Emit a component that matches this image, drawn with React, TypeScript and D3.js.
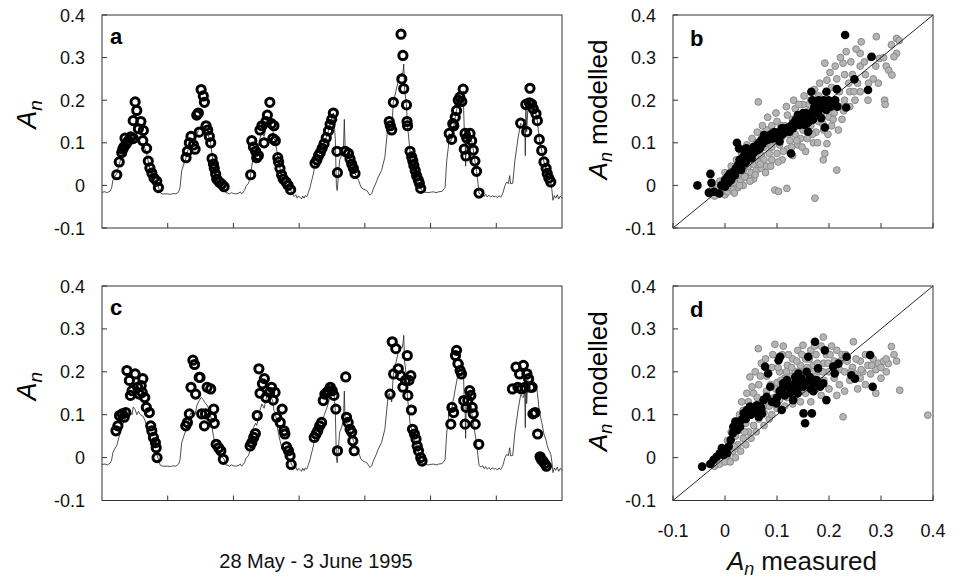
import React from 'react';
import * as d3 from 'd3';

type P = [number, number];

// ---------- axis ticks ----------
const dayBoundaries = [24, 48, 72, 96, 120, 144];
const yTickValues = [0.4, 0.3, 0.2, 0.1, 0, -0.1];
const yTickLabels = ['0.4', '0.3', '0.2', '0.1', '0', '-0.1'];
const scatterXTicks = [-0.1, 0, 0.1, 0.2, 0.3, 0.4];
const scatterXLabels = ['-0.1', '0', '0.1', '0.2', '0.3', '0.4'];

// ---------- modelled line (hour since 28 May 00:00, An) ----------
const lineDay1: P[] = [[0,-0.016],[1,-0.015],[2,-0.017],[3,-0.013],[3.5,-0.006],[4,0.012],[4.6,0.02],[5.4,0.028],[6.3,0.05],[7.2,0.07],[8,0.085],[8.8,0.095],[9.6,0.1],[10.5,0.105],[11,0.1],[11.4,0.118],[12.1,0.112],[12.7,0.1],[13.3,0.108],[14,0.1],[14.9,0.097],[15.5,0.09],[16.3,0.075],[16.9,0.055],[17.5,0.04],[18.2,0.028],[19,0.016],[20,0.008],[20.6,-0.004],[21.2,-0.017],[22,-0.02],[23,-0.02]];
const lineDay2: P[] = [[24,-0.02],[25,-0.021],[26,-0.019],[27,-0.02],[28,-0.015],[28.5,-0.005],[29.1,0.035],[30.3,0.058],[30.7,0.065],[31.2,0.078],[31.9,0.095],[32.5,0.105],[33.4,0.095],[34,0.1],[34.6,0.12],[35.2,0.13],[36.2,0.14],[37,0.135],[37.4,0.13],[38,0.125],[38.6,0.12],[39.2,0.11],[39.7,0.098],[40.2,0.07],[40.7,0.05],[41,0.04],[41.5,0.027],[41.9,0.015],[42.8,0.008],[43.7,0.003],[44.6,-0.004],[45.2,-0.017],[46,-0.018],[46.6,-0.02],[47.3,-0.017]];
const lineDay3: P[] = [[48,-0.019],[49,-0.02],[50,-0.018],[50.5,-0.015],[51,-0.02],[52,-0.012],[52.6,-0.002],[53.5,0.005],[54.2,0.02],[54.7,0.045],[55.3,0.07],[56.1,0.08],[56.5,0.075],[57.1,0.09],[57.7,0.11],[58.4,0.125],[59.2,0.115],[59.9,0.135],[60.4,0.15],[61.3,0.145],[61.9,0.14],[62.4,0.13],[62.8,0.11],[63.3,0.105],[64.2,0.065],[64.5,0.055],[65,0.04],[65.6,0.025],[66.2,0.015],[67.2,0.008],[68,0],[68.9,-0.01],[69.5,-0.02],[70.2,-0.026],[70.8,-0.022],[71.3,-0.03],[71.8,-0.025]];
const lineDay4: P[] = [[72.4,-0.028],[72.9,-0.032],[73.3,-0.025],[73.8,-0.03],[74.2,-0.024],[74.8,-0.027],[75.4,-0.016],[76,-0.004],[76.6,0.012],[77.2,0.027],[77.8,0.05],[78.5,0.06],[79.1,0.07],[79.7,0.077],[80.4,0.087],[81.1,0.098],[81.9,0.112],[82.7,0.128],[83.3,0.143],[83.9,0.155],[84.5,0.17],[85.2,0.11],[85.6,0],[85.9,-0.012],[86.3,0.02],[86.8,0.06],[87.5,0.07],[88.2,0.09],[88.5,0.155],[88.8,0.085],[90,0.075],[90.6,0.062],[91.2,0.05],[91.8,0.04],[92.4,0.028],[93.7,0.012],[94.6,-0.004]];
const lineDay5: P[] = [[95.3,-0.008],[96.7,-0.012],[97.9,-0.023],[98.5,-0.019],[99.1,-0.008],[100.2,0.008],[100.9,0.02],[102.1,0.035],[103.3,0.066],[104,0.112],[104.5,0.143],[104.9,0.15],[105.3,0.14],[105.8,0.13],[106.4,0.195],[107.3,0.22],[108.2,0.245],[109,0.26],[109.6,0.255],[110,0.27],[110.2,0.285],[110.5,0.225],[111.2,0.189],[111.5,0.145],[112.5,0.08],[113.1,0.067],[113.5,0.058],[113.9,0.047],[114.4,0.035],[114.9,0.023],[115.5,0.013],[115.9,0.005],[116.4,-0.007],[117,-0.015],[118,-0.016],[119,-0.017]];
const lineDay6: P[] = [[120,-0.016],[121,-0.015],[122,-0.017],[123,-0.015],[124.2,-0.014],[125.3,-0.005],[125.9,0.058],[126.5,0.09],[126.8,0.122],[127.2,0.1],[127.7,0.108],[128.1,0.13],[128.5,0.14],[129,0.16],[129.5,0.176],[130.1,0.2],[130.7,0.207],[131.4,0.197],[131.9,0.222],[132.3,0.13],[132.6,0.12],[132.8,0.045],[133,0.11],[133.4,0.12],[134.4,0.122],[135,0.105],[135.6,0.083],[136.2,0.057],[136.8,0.033],[137.3,0.005],[137.7,-0.018],[138.4,-0.022],[139,-0.019],[139.6,-0.026],[140.1,-0.021],[140.7,-0.027],[141.3,-0.023],[141.9,-0.028],[142.5,-0.024],[143.2,-0.027]];
const lineDay7: P[] = [[143.8,-0.025],[144.4,-0.029],[145,-0.024],[145.6,-0.028],[146.3,-0.02],[147.2,0],[147.8,0.008],[148.4,0.004],[148.9,0.023],[149.2,0.004],[150,0.005],[150.8,0.058],[152,0.113],[152.9,0.146],[153.8,0.14],[154.4,0.15],[154.6,0.07],[154.8,0.19],[155.1,0.126],[155.6,0.19],[156.1,0.2],[156.6,0.205],[156.9,0.191],[157.5,0.18],[158.5,0.168],[159,0.152],[159.7,0.108],[160.6,0.082],[161.4,0.055],[162.2,0.04],[162.6,0.028],[163.2,0.017],[163.9,0.008],[164.3,-0.01],[164.7,-0.035],[165.2,-0.024],[165.7,-0.03],[166.3,-0.022],[166.8,-0.032],[167.4,-0.025],[168,-0.03]];
const modelLine: P[] = [...lineDay1, ...lineDay2, ...lineDay3, ...lineDay4, ...lineDay5, ...lineDay6, ...lineDay7];

// ---------- measured points, panel a ----------
const circlesA: P[] = [
  [5.4,0.025],[6.3,0.055],[7.2,0.077],[7.6,0.085],[8,0.09],[8.8,0.097],[8.4,0.111],[9.6,0.105],[10.5,0.114],[11.4,0.11],[12.1,0.196],[12.7,0.176],[11.4,0.152],[14.2,0.15],[13.3,0.133],[15.1,0.129],[14.9,0.105],[16.3,0.087],[16.9,0.057],[17.5,0.041],[18.2,0.029],[19,0.017],[20,0.01],[20.6,-0.005],
  [30.7,0.065],[31.2,0.08],[31.9,0.1],[32.5,0.115],[33.4,0.095],[34,0.085],[34.6,0.165],[35.2,0.17],[35.5,0.125],[36.2,0.225],[37,0.21],[37.4,0.195],[38,0.14],[38.6,0.13],[39.2,0.115],[39.7,0.1],[40.2,0.063],[40.7,0.05],[41,0.04],[41.5,0.027],[41.9,0.015],[42.8,0.008],[43.7,0.003],[44.6,-0.003],
  [54.3,0.025],[54.7,0.105],[55.3,0.09],[56.1,0.08],[56.5,0.065],[57.1,0.07],[57.7,0.13],[58.4,0.14],[59.2,0.1],[59.9,0.15],[60.4,0.165],[61.3,0.195],[61.9,0.145],[62.8,0.14],[62.4,0.11],[63.3,0.105],[64.2,0.065],[64.5,0.055],[65,0.04],[65.6,0.025],[66.2,0.015],[67.2,0.008],[68,0],[68.9,-0.01],
  [77.8,0.052],[78.5,0.06],[79.1,0.07],[79.7,0.077],[80.4,0.087],[81.1,0.098],[81.9,0.112],[82.7,0.128],[83.3,0.143],[83.9,0.155],[84.5,0.17],[85.8,0.08],[86,0.03],[88.8,0.08],[90,0.075],[90.6,0.062],[91.2,0.05],[91.8,0.04],[92.4,0.028],
  [104.9,0.15],[105.3,0.14],[105.8,0.13],[106.4,0.195],[109.2,0.355],[109.5,0.25],[109.9,0.305],[110.2,0.227],[111.2,0.189],[111.4,0.15],[111.6,0.14],[112.5,0.08],[113.1,0.067],[113.5,0.058],[113.9,0.047],[114.4,0.035],[114.9,0.023],[115.5,0.013],[115.9,0.005],[116.4,-0.007],
  [126.8,0.122],[127.7,0.108],[128.1,0.145],[128.5,0.14],[129,0.16],[129.5,0.176],[130.1,0.2],[130.7,0.207],[131.4,0.197],[131.9,0.226],[132.3,0.085],[132.6,0.122],[132.9,0.069],[133.2,0.111],[134.4,0.122],[135,0.105],[135.6,0.083],[136.2,0.057],[136.8,0.033],[137.7,-0.018],
  [152.9,0.146],[154.8,0.19],[155.1,0.126],[156.1,0.194],[156.3,0.228],[156.9,0.191],[157.5,0.18],[158.5,0.168],[159,0.152],[159.7,0.108],[160.6,0.082],[161.4,0.055],[162.2,0.04],[162.6,0.028],[163.2,0.017],[163.9,0.008],
];

// ---------- measured points, panel c ----------
const circlesC: P[] = [
  [5.1,0.0625],[5.8,0.074],[6.4,0.098],[7.4,0.102],[8.1,0.094],[8.7,0.105],[9.1,0.203],[10,0.18],[10.4,0.145],[11,0.156],[12.1,0.195],[13,0.164],[13.6,0.148],[14.3,0.168],[14.9,0.184],[14.7,0.152],[15.6,0.14],[16.2,0.117],[17.3,0.105],[17.8,0.074],[18.2,0.0625],[18.8,0.047],[19.5,0.035],[19.8,0.023],[20.1,0],
  [30.6,0.074],[31.2,0.082],[31.9,0.102],[32.5,0.164],[33.2,0.227],[33.8,0.217],[34.2,0.148],[35.5,0.187],[35.8,0.187],[36.4,0.102],[37.4,0.074],[37.8,0.102],[38.4,0.164],[39.7,0.16],[40,0.094],[40.8,0.113],[41,0.08],[41.7,0.031],[42.6,0.023],[43.4,0.016],[44.3,-0.004],
  [54.1,0.027],[54.7,0.035],[55.4,0.047],[56,0.056],[56.7,0.098],[57.3,0.207],[57.7,0.15],[58.6,0.172],[59.3,0.184],[59.9,0.14],[61.2,0.152],[61.9,0.164],[62.5,0.134],[63.2,0.152],[63.8,0.094],[65.1,0.082],[65.8,0.113],[66.5,0.0625],[66.8,0.055],[67.4,0.025],[68.1,0.016],[68.7,0.004],[69.1,-0.016],
  [77.5,0.047],[78.2,0.055],[78.8,0.0625],[79.5,0.074],[80.2,0.082],[80.8,0.133],[81.4,0.148],[82.1,0.152],[82.7,0.156],[83.4,0.164],[84.1,0.156],[84.7,0.145],[85.4,0.113],[86,0.016],[89,0.188],[89.3,0.094],[89.9,0.082],[90.6,0.066],[91.2,0.059],[91.6,0.039],[92.1,0.016],
  [105.2,0.148],[106,0.27],[106.5,0.195],[107.3,0.254],[108.2,0.207],[109.1,0.191],[109.9,0.164],[110.8,0.18],[111.5,0.238],[111.7,0.145],[112.1,0.18],[112.8,0.191],[113,0.111],[113.4,0.066],[114.1,0.055],[114.7,0.043],[115.1,0.027],[115.6,0.016],[116.4,0],[116.9,-0.008],
  [127.4,0.078],[127.8,0.117],[128.4,0.105],[129.1,0.238],[129.5,0.25],[130,0.219],[130.8,0.203],[131.3,0.195],[132.1,0.133],[132.6,0.078],[133,0.117],[133.6,0.133],[134.3,0.156],[134.7,0.145],[135.2,0.117],[135.6,0.102],[136.3,0.078],[137.6,0.031],
  [149.9,0.16],[151.2,0.211],[151.9,0.164],[152.5,0.195],[153.2,0.16],[153.9,0.215],[154.5,0.164],[155.2,0.195],[155.8,0.184],[156.5,0.164],[157.1,0.164],[157.4,0.102],[158.2,0.105],[159.1,0.055],[160,0.002],[160.4,-0.004],[161,-0.008],[161.7,-0.014],[162.3,-0.02],
];

// ---------- scatter b (measured, modelled) ----------
const grayB: P[] = [
  [-0.03,-0.02],[-0.025,-0.01],[-0.02,-0.025],[-0.015,-0.005],[-0.01,-0.02],[-0.01,0.01],[-0.005,-0.012],[0,0.005],[0,-0.022],[0.005,-0.015],[0.005,0.02],[0.01,0],[0.01,0.03],[0.015,-0.01],[0.015,0.015],[0.02,0.04],[0.02,0.005],[0.025,-0.005],[0.025,0.025],[0.03,0.05],[0.03,0.01],[0.035,0.035],[0.035,0],[0.04,0.06],[0.04,0.02],[0.045,0.045],[0.045,0.075],[0.05,0.03],[0.05,0.06],[0.05,0.09],
  [0.055,0.015],[0.055,0.05],[0.06,0.1],[0.06,0.07],[0.06,0.035],[0.065,0.085],[0.065,0.055],[0.064,0.196],[0.07,0.04],[0.07,0.12],[0.07,0.07],[0.075,0.09],[0.075,0.06],[0.08,0.13],[0.08,0.045],[0.08,0.1],[0.085,0.075],[0.085,0.115],[0.09,0.06],[0.09,0.14],[0.09,0.09],[0.095,0.105],[0.096,-0.011],[0.1,0.075],[0.1,0.125],[0.1,0.15],[0.103,-0.014],[0.105,0.095],[0.11,0.06],[0.11,0.115],
  [0.115,0.14],[0.12,0.085],[0.12,0.165],[0.119,-0.007],[0.125,0.105],[0.125,0.13],[0.13,0.155],[0.13,0.07],[0.135,0.12],[0.135,0.18],[0.14,0.095],[0.14,0.14],[0.145,0.165],[0.145,0.11],[0.15,0.19],[0.15,0.13],[0.155,0.08],[0.155,0.155],[0.16,0.12],[0.16,0.175],[0.165,0.2],[0.165,0.14],[0.17,0.1],[0.17,0.16],[0.173,-0.03],
  [0.175,0.185],[0.175,0.125],[0.18,0.21],[0.18,0.15],[0.185,0.17],[0.189,0.06],[0.19,0.2],[0.19,0.13],[0.192,0.075],[0.195,0.22],[0.196,0.098],[0.196,0.247],[0.192,0.287],[0.2,0.16],[0.2,0.185],[0.205,0.23],[0.205,0.14],[0.21,0.2],[0.21,0.17],[0.215,0.036],[0.215,0.25],[0.22,0.185],[0.22,0.22],[0.225,0.155],[0.227,0.287],[0.23,0.2],[0.23,0.26],[0.233,0.314],[0.24,0.22],[0.24,0.185],[0.245,0.26],[0.26,0.31],[0.25,0.2],[0.26,0.28],
  [0.255,0.24],[0.262,0.337],[0.26,0.22],[0.276,0.24],[0.27,0.26],[0.275,0.2],[0.28,0.3],[0.291,0.349],[0.285,0.25],[0.29,0.28],[0.295,0.24],[0.297,0.298],[0.307,0.2],[0.305,0.3],[0.308,0.19],[0.31,0.28],[0.315,0.27],[0.32,0.33],[0.33,0.345],[0.33,0.31],[0.321,0.259],[0.325,0.302],[0.335,0.34],
  [0,0.03],[0.005,-0.005],[0.012,0.045],[0.018,-0.018],[0.022,0.06],[0.028,0],[0.032,0.075],[0.038,0.02],[0.042,0.095],[0.048,0.01],[0.052,0.11],[0.058,0.025],[0.062,0.125],[0.068,0.05],[0.072,0.14],[0.078,0.03],[0.082,0.16],[0.088,0.045],[0.092,0.12],[0.098,0.17],[0.102,0.055],[0.108,0.14],[0.112,0.08],[0.118,0.185],[0.122,0.12],[0.128,0.09],[0.132,0.2],[0.138,0.105],[0.142,0.19],[0.148,0.09],[0.152,0.21],[0.158,0.11],[0.162,0.19],[0.168,0.12],[0.172,0.225],[0.178,0.1],[0.182,0.24],[0.188,0.145],[0.198,0.12],[0.202,0.265],[0.208,0.155],[0.212,0.28],[0.218,0.13],[0.222,0.3],[0.228,0.175],[0.238,0.24],[0.242,0.29],[0.248,0.22],[0.252,0.32],[0.268,0.29],
];
const blackB: P[] = [
  [-0.053,0],[-0.031,-0.017],[-0.021,-0.015],[-0.011,-0.019],[-0.026,0.006],[-0.028,0.027],[-0.007,0],[0,0.013],[0,-0.003],[0.005,0.02],[0.006,0.006],[0.009,0.027],[0.012,0.013],[0.016,0.032],[0.019,0.024],[0.021,0.04],[0.025,0.048],[0.028,0.06],[0.031,0.036],[0.035,0.067],[0.038,0.079],[0.038,0.052],[0.041,0.087],[0.044,0.071],[0.049,0.067],[0.023,0.1],[0.027,0.087],[0.051,0.064],[0.054,0.075],[0.057,0.079],[0.06,0.09],[0.063,0.083],[0.065,0.1],[0.067,0.087],[0.07,0.106],[0.073,0.099],[0.075,0.118],[0.08,0.11],[0.083,0.107],[0.086,0.118],[0.091,0.122],[0.092,0.11],[0.096,0.114],[0.1,0.122],[0.102,0.11],[0.105,0.103],[0.106,0.126],[0.109,0.134],[0.112,0.122],[0.114,0.134],[0.118,0.126],[0.124,0.126],[0.125,0.138],[0.127,0.075],[0.131,0.146],[0.131,0.134],[0.136,0.154],[0.14,0.165],[0.143,0.142],[0.144,0.154],[0.147,0.15],[0.15,0.17],[0.153,0.142],[0.154,0.158],[0.156,0.169],[0.158,0.146],[0.16,0.126],[0.162,0.15],[0.165,0.158],[0.166,0.22],[0.168,0.173],[0.169,0.154],[0.168,0.2],[0.175,0.192],[0.179,0.169],[0.18,0.2],[0.185,0.181],[0.185,0.158],[0.189,0.192],[0.192,0.136],[0.195,0.177],[0.195,0.22],[0.199,0.2],[0.203,0.185],[0.212,0.2],[0.215,0.226],[0.216,0.185],[0.233,0.183],[0.231,0.353],[0.249,0.249],[0.275,0.224],[0.282,0.302],
  [0.01,0.02],[0.02,0.035],[0.03,0.045],[0.04,0.055],[0.045,0.08],[0.055,0.09],[0.062,0.095],[0.07,0.095],[0.078,0.105],[0.088,0.11],[0.095,0.125],[0.108,0.118],[0.116,0.128],[0.122,0.135],[0.128,0.14],[0.138,0.148],[0.148,0.16],[0.158,0.165],[0.172,0.185],[0.18,0.185],[0.19,0.2],[0.2,0.19],
];

// ---------- scatter d (measured, modelled) ----------
const grayD: P[] = [
  [-0.03,-0.015],[-0.02,-0.02],[-0.015,0],[-0.01,-0.015],[-0.005,0.015],[0,-0.01],[0,0.02],[0.005,0.005],[0.01,-0.01],[0.01,0.035],[0.015,0.015],[0.02,0.05],[0.02,0],[0.025,0.03],[0.03,0.065],[0.03,0.015],[0.035,0.045],[0.035,0.11],[0.04,0.08],[0.04,0.03],[0.045,0.06],[0.045,0.13],[0.048,0.188],[0.05,0.1],[0.05,0.045],[0.055,0.075],[0.055,0.15],[0.06,0.12],[0.06,0.06],[0.064,0.254],
  [0.065,0.09],[0.065,0.17],[0.07,0.22],[0.07,0.135],[0.075,0.075],[0.075,0.105],[0.08,0.19],[0.08,0.155],[0.085,0.12],[0.085,0.09],[0.09,0.21],[0.09,0.1],[0.095,0.14],[0.096,0.264],[0.1,0.175],[0.1,0.115],[0.105,0.2],[0.105,0.135],[0.11,0.24],[0.11,0.15],[0.115,0.12],[0.115,0.185],[0.12,0.215],[0.12,0.14],[0.125,0.165],[0.125,0.19],[0.13,0.23],[0.13,0.125],[0.135,0.2],[0.135,0.145],
  [0.14,0.17],[0.14,0.25],[0.145,0.215],[0.145,0.13],[0.15,0.262],[0.15,0.185],[0.155,0.15],[0.155,0.23],[0.16,0.2],[0.16,0.17],[0.165,0.25],[0.165,0.13],[0.17,0.215],[0.17,0.185],[0.175,0.16],[0.175,0.24],[0.18,0.2],[0.185,0.26],[0.185,0.145],[0.189,0.281],[0.19,0.22],[0.19,0.18],[0.195,0.24],[0.2,0.2],[0.2,0.16],[0.205,0.26],[0.21,0.225],[0.21,0.185],[0.215,0.145],[0.215,0.25],
  [0.22,0.205],[0.22,0.17],[0.225,0.24],[0.227,0.095],[0.23,0.2],[0.23,0.155],[0.235,0.225],[0.24,0.18],[0.245,0.21],[0.247,0.27],[0.25,0.195],[0.255,0.16],[0.26,0.225],[0.26,0.185],[0.265,0.2],[0.27,0.24],[0.27,0.17],[0.275,0.215],[0.28,0.195],[0.285,0.23],[0.29,0.15],[0.29,0.205],[0.295,0.22],[0.3,0.185],[0.305,0.225],[0.31,0.2],[0.314,0.219],[0.32,0.259],[0.325,0.24],[0.33,0.225],[0.336,0.157],[0.39,0.099],
  [0.005,0.04],[0.012,0.06],[0.018,0.025],[0.022,0.085],[0.028,0.1],[0.032,0.13],[0.038,0.06],[0.042,0.15],[0.052,0.165],[0.058,0.2],[0.062,0.14],[0.068,0.19],[0.072,0.1],[0.078,0.23],[0.082,0.13],[0.088,0.17],[0.092,0.24],[0.098,0.16],[0.102,0.21],[0.108,0.18],[0.112,0.26],[0.118,0.2],[0.122,0.24],[0.128,0.21],[0.132,0.18],[0.138,0.225],[0.142,0.2],[0.148,0.24],[0.152,0.2],[0.158,0.21],[0.162,0.23],[0.168,0.2],[0.172,0.26],[0.178,0.22],[0.182,0.18],[0.188,0.2],[0.198,0.22],[0.202,0.24],[0.212,0.205],[0.222,0.225],[0.232,0.24],[0.242,0.2],[0.252,0.23],[0.262,0.205],[0.282,0.215],[0.3,0.21],[0.31,0.23],
];
const blackD: P[] = [
  [-0.044,-0.021],[-0.028,-0.015],[-0.022,-0.005],[-0.016,0.002],[-0.01,0.01],[-0.006,0.022],[-0.003,0.006],[0,0.018],[0.004,0.01],[0.007,0.026],[0.011,0.041],[0.015,0.057],[0.016,0.072],[0.02,0.084],[0.023,0.064],[0.029,0.072],[0.032,0.088],[0.036,0.103],[0.04,0.09],[0.042,0.111],[0.048,0.119],[0.05,0.1],[0.055,0.111],[0.06,0.105],[0.061,0.122],[0.065,0.095],[0.068,0.119],[0.07,0.115],[0.071,0.103],[0.074,0.134],[0.077,0.212],[0.08,0.142],[0.083,0.196],[0.087,0.165],[0.09,0.13],[0.099,0.126],[0.1,0.14],[0.103,0.227],[0.105,0.155],[0.106,0.235],[0.109,0.111],[0.11,0.16],[0.112,0.173],[0.115,0.145],[0.119,0.181],[0.12,0.17],[0.122,0.165],[0.125,0.15],[0.13,0.16],[0.131,0.134],[0.135,0.188],[0.135,0.175],[0.14,0.15],[0.141,0.196],[0.144,0.165],[0.147,0.184],[0.15,0.165],[0.151,0.103],[0.154,0.08],[0.155,0.175],[0.157,0.2],[0.16,0.235],[0.163,0.188],[0.165,0.16],[0.167,0.103],[0.17,0.173],[0.17,0.155],[0.173,0.27],[0.176,0.181],[0.179,0.208],[0.183,0.165],[0.189,0.173],[0.192,0.25],[0.195,0.134],[0.208,0.212],[0.211,0.196],[0.218,0.219],[0.234,0.235],[0.243,0.192],[0.25,0.184],[0.279,0.239],[0.284,0.165],
];

const FONT = '"Liberation Sans", Arial, Helvetica, sans-serif';

const TS_LEFT = 102;
const TS_RIGHT = 562;
const SC_LEFT = 673;
const SC_RIGHT = 933;

function YAxis({ left, y }: { left: number; y: d3.ScaleLinear<number, number> }) {
  return (
    <g>
      {yTickValues.map((v, i) => (
        <g key={i}>
          <line x1={left} x2={left + 5} y1={y(v)} y2={y(v)} stroke="#333" strokeWidth={1} />
          <text x={left - 17} y={y(v) + 6.5} textAnchor="end" fontSize={18} fontFamily={FONT} fill="#111">
            {yTickLabels[i]}
          </text>
        </g>
      ))}
    </g>
  );
}

function TimePanel({ top, bottom, circles, label }: { top: number; bottom: number; circles: P[]; label: string }) {
  const x = d3.scaleLinear().domain([0, 168]).range([TS_LEFT, TS_RIGHT]);
  const y = d3.scaleLinear().domain([-0.1, 0.4]).range([bottom, top]);
  const path = d3.line<P>().x((d) => x(d[0])).y((d) => y(d[1]))(modelLine) || '';
  const mid = (top + bottom) / 2 - 7;
  return (
    <g>
      <path d={path} fill="none" stroke="#222" strokeWidth={0.8} />
      {circles.map((d, i) => (
        <circle key={i} cx={x(d[0])} cy={y(d[1])} r={4.1} fill="none" stroke="#000" strokeWidth={3.0} />
      ))}
      <rect x={TS_LEFT} y={top} width={TS_RIGHT - TS_LEFT} height={bottom - top} fill="none" stroke="#333" strokeWidth={1} />
      {dayBoundaries.map((h) => (
        <line key={h} x1={x(h)} x2={x(h)} y1={bottom} y2={bottom - 5} stroke="#333" strokeWidth={1} />
      ))}
      <YAxis left={TS_LEFT} y={y} />
      <text x={TS_LEFT + 8} y={top + 29} fontSize={22} fontWeight="bold" fontFamily={FONT}>{label}</text>
      <text transform={`translate(36,${mid}) rotate(-90)`} textAnchor="middle" fontFamily={FONT} fontSize={27}>
        <tspan fontStyle="italic">A</tspan>
        <tspan fontStyle="italic" fontSize={19} dy={6}>n</tspan>
      </text>
    </g>
  );
}

function ScatterPanel({ top, bottom, gray, black, label, showX }: { top: number; bottom: number; gray: P[]; black: P[]; label: string; showX: boolean }) {
  const x = d3.scaleLinear().domain([-0.1, 0.4]).range([SC_LEFT, SC_RIGHT]);
  const y = d3.scaleLinear().domain([-0.1, 0.4]).range([bottom, top]);
  const mid = (top + bottom) / 2 - 12;
  return (
    <g>
      {gray.map((d, i) => (
        <circle key={'g' + i} cx={x(d[0])} cy={y(d[1])} r={3.4} fill="#b4b4b4" stroke="#8a8a8a" strokeWidth={1} />
      ))}
      <line x1={x(-0.1)} y1={y(-0.1)} x2={x(0.4)} y2={y(0.4)} stroke="#111" strokeWidth={0.9} />
      {black.map((d, i) => (
        <circle key={'b' + i} cx={x(d[0])} cy={y(d[1])} r={4.3} fill="#000" />
      ))}
      <rect x={SC_LEFT} y={top} width={SC_RIGHT - SC_LEFT} height={bottom - top} fill="none" stroke="#333" strokeWidth={1} />
      {scatterXTicks.map((v, i) => (
        <g key={i}>
          <line x1={x(v)} x2={x(v)} y1={bottom} y2={bottom - 5} stroke="#333" strokeWidth={1} />
          {showX && (
            <text x={x(v)} y={bottom + 36} textAnchor="middle" fontSize={18} fontFamily={FONT} fill="#111">
              {scatterXLabels[i]}
            </text>
          )}
        </g>
      ))}
      <YAxis left={SC_LEFT} y={y} />
      <text x={SC_LEFT + 17} y={top + 31} fontSize={22} fontWeight="bold" fontFamily={FONT}>{label}</text>
      <text transform={`translate(607,${mid}) rotate(-90)`} textAnchor="middle" fontFamily={FONT} fontSize={26}>
        <tspan fontStyle="italic">A</tspan>
        <tspan fontStyle="italic" fontSize={18} dy={5}>n</tspan>
        <tspan dy={-5} dx={7}>modelled</tspan>
      </text>
    </g>
  );
}

export default function App() {
  return (
    <svg width={964} height={583} style={{ position: 'absolute', left: 0, top: 0, background: '#fff' }} fontFamily={FONT}>
      <rect x={0} y={0} width={964} height={583} fill="#fff" />
      <TimePanel top={15} bottom={228} circles={circlesA} label="a" />
      <TimePanel top={286} bottom={500.5} circles={circlesC} label="c" />
      <ScatterPanel top={15} bottom={228} gray={grayB} black={blackB} label="b" showX={false} />
      <ScatterPanel top={286} bottom={500.5} gray={grayD} black={blackD} label="d" showX={true} />
      <text x={316} y={568} textAnchor="middle" fontSize={20} fontFamily={FONT} fill="#111">28 May - 3 June 1995</text>
      <text x={727} y={570} fontSize={26} fontFamily={FONT} fill="#111">
        <tspan fontStyle="italic">A</tspan>
        <tspan fontStyle="italic" fontSize={18} dy={5}>n</tspan>
        <tspan dy={-5} dx={7}>measured</tspan>
      </text>
    </svg>
  );
}
